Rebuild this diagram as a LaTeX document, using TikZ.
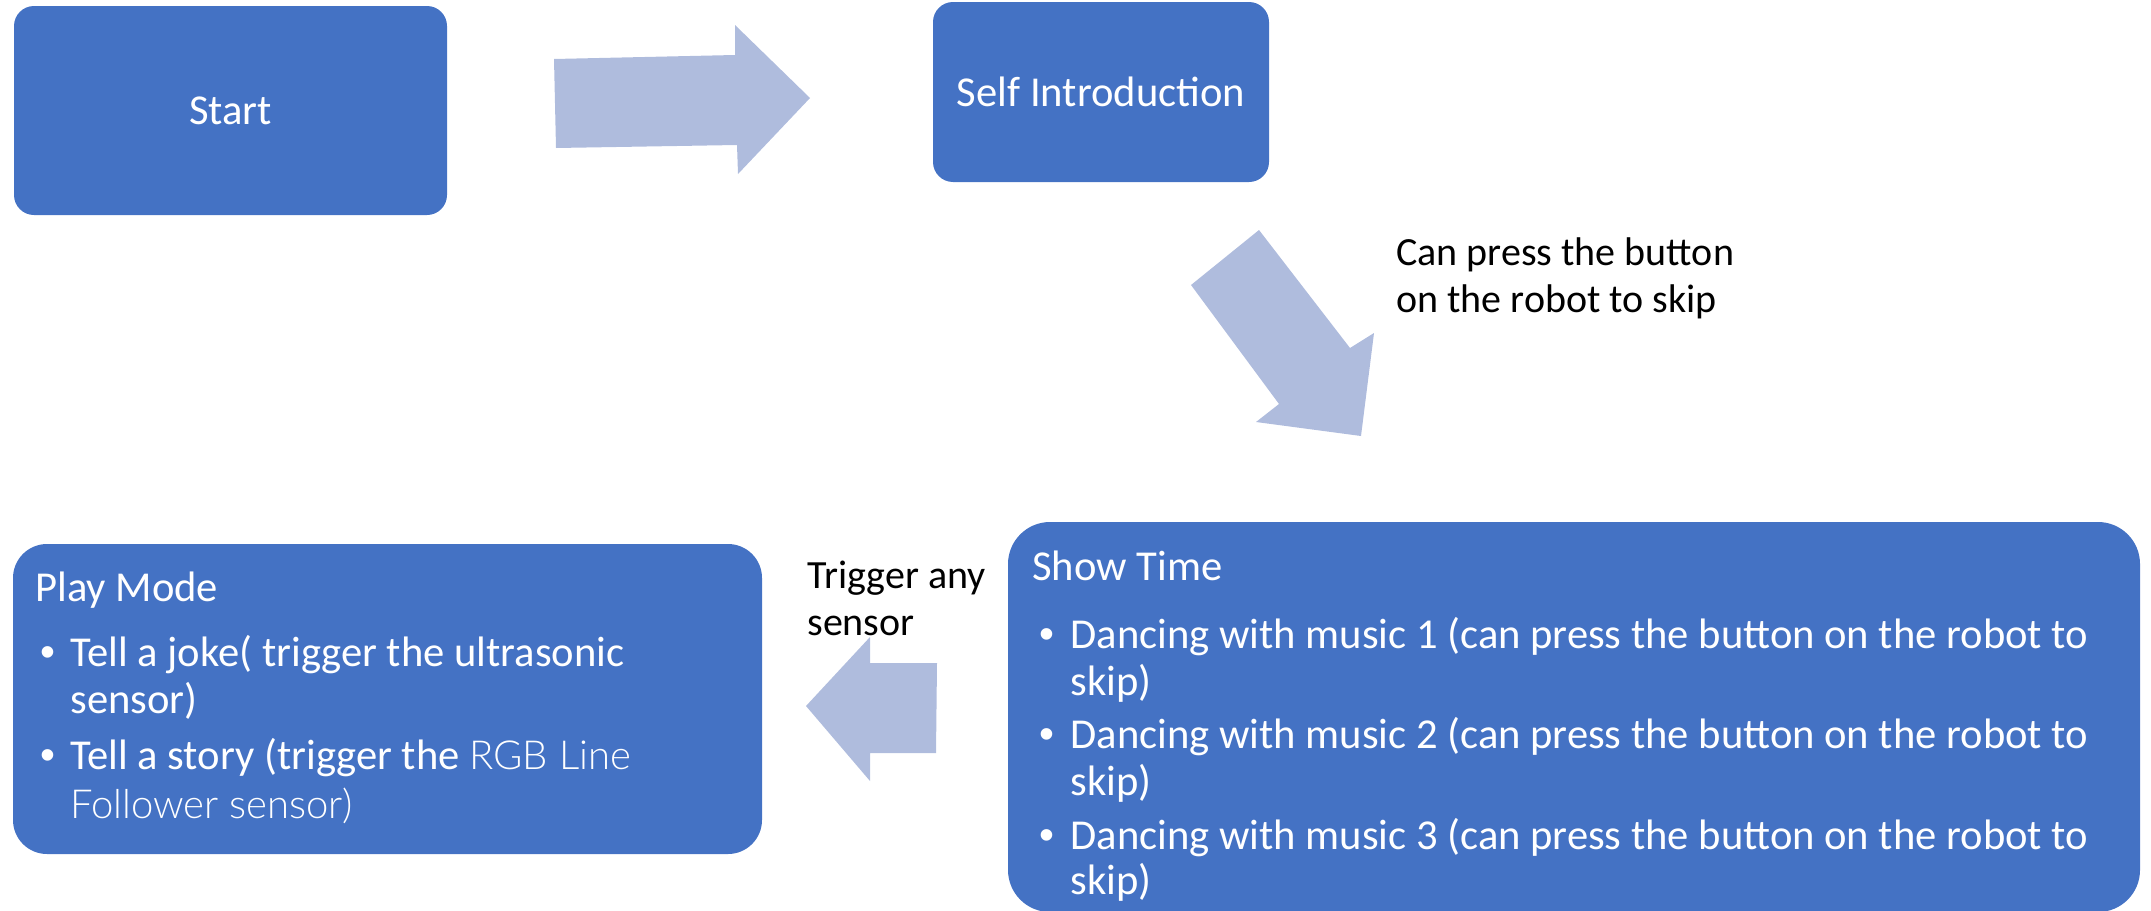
\documentclass[tikz,border=0pt]{standalone}
\usepackage{fontspec}
\setmainfont{Carlito}
\newfontfamily\bulletfont{Liberation Sans}
\newfontfamily\lightfont{Lato Light}
\newlength\pxu
\setlength\pxu{0.5pt}
\definecolor{boxblue}{HTML}{4472C4}
\definecolor{arrowblue}{HTML}{AFBCDD}
\tikzset{
  box/.style={draw=none, fill=boxblue, rectangle, inner sep=0pt},
  boxtext/.style={text=white, font=\fontsize{21.3}{25}\selectfont, inner sep=0pt, text height=0.7em, text depth=0.25em},
  linetext/.style={boxtext, anchor=west},
  bullettext/.style={boxtext, anchor=west, font=\bulletfont\fontsize{21.3}{25}\selectfont},
  labeltext/.style={text=black, font=\fontsize{20}{24}\selectfont, inner sep=0pt, anchor=west, text height=0.7em, text depth=0.25em},
  blockarrow/.style={fill=arrowblue, draw=none}
}
\begin{document}
\begin{tikzpicture}[x=\pxu, y=-\pxu]
\useasboundingbox (0,0) rectangle (2151,910);
% boxes
\node[box, rounded corners=20\pxu, minimum width=433\pxu, minimum height=209\pxu] (start) at (230.5,110.5) {};
\node[boxtext] (starttext) at ([yshift=-9\pxu]start.center) {Start};
\node[box, rounded corners=20\pxu, minimum width=336\pxu, minimum height=180\pxu] (intro) at (1101,92) {};
\node[boxtext] (introtext) at ([yshift=-10\pxu]intro.center) {Self Introduction};
\node[box, rounded corners=34\pxu, minimum width=749\pxu, minimum height=310\pxu] (play) at (387.5,699) {};
\node[box, rounded corners=42\pxu, minimum width=1132\pxu, minimum height=390\pxu] (show) at (1574,717) {};
% arrows
\fill[blockarrow] (554,59) -- (735,55) -- (735,25) -- (810,98) -- (738,174) -- (737,145) -- (556,148) -- cycle;
\fill[blockarrow] (1259,230) -- (1191,285) -- (1279,404) -- (1256,422) -- (1361,436) -- (1374,333) -- (1350,348) -- cycle;
\fill[blockarrow] (937,663) -- (870,663) -- (870,637) -- (806,706) -- (870,781) -- (870,753) -- (936,753) -- cycle;
% labels
\node[labeltext] (lab1a) at (1396,261) {Can press the button};
\node[labeltext] (lab1b) at (1396,308) {on the robot to skip};
\node[labeltext] (lab2a) at (807,584) {Trigger any};
\node[labeltext] (lab2b) at (807,631) {sensor};
% play mode text
\node[linetext] (pt) at (35,597) {Play Mode};
\node[bullettext] (pb1) at (40,662) {•};
\node[linetext] (p1) at (70,662) {Tell a joke( trigger the ultrasonic};
\node[linetext] (p2) at (70,709) {sensor)};
\node[bullettext] (pb2) at (40,765) {•};
\node[linetext] (p3) at (70,765) {Tell a story (trigger the {\lightfont\fontsize{20}{25}\selectfont RGB Line}};
\node[linetext] (p4) at (70,814) {\lightfont\fontsize{20}{25}\selectfont Follower sensor)};
% show time text
\node[linetext] (st) at (1032,576) {Show Time};
\node[bullettext] (sb1) at (1039,644) {•};
\node[linetext] (s1) at (1070,644) {Dancing with music 1 (can press the button on the robot to};
\node[linetext] (s2) at (1070,691) {skip)};
\node[bullettext] (sb2) at (1039,744) {•};
\node[linetext] (s3) at (1070,744) {Dancing with music 2 (can press the button on the robot to};
\node[linetext] (s4) at (1070,791) {skip)};
\node[bullettext] (sb3) at (1039,845) {•};
\node[linetext] (s5) at (1070,845) {Dancing with music 3 (can press the button on the robot to};
\node[linetext] (s6) at (1070,890) {skip)};
\end{tikzpicture}
\end{document}
